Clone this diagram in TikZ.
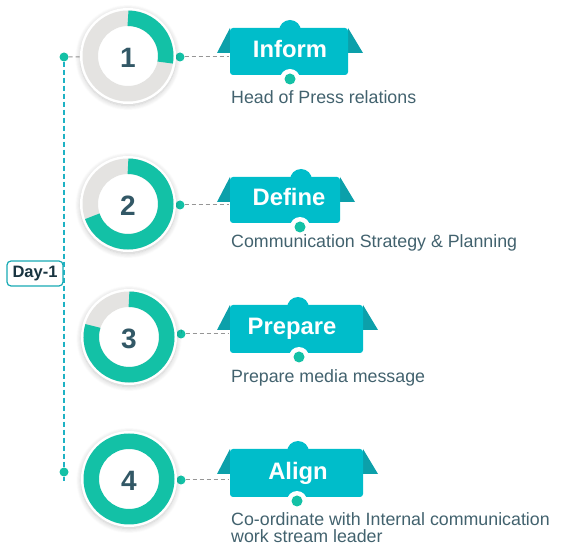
\documentclass[tikz,border=0pt]{standalone}
\usepackage{fontspec}
\setmainfont{Liberation Sans}
\usetikzlibrary{shadows.blur}
\pgfdeclarelayer{bg}
\pgfsetlayers{bg,main}
\definecolor{ringteal}{RGB}{19,193,166}
\definecolor{ringgray}{RGB}{228,227,225}
\definecolor{bannerc}{RGB}{0,189,202}
\definecolor{wingc}{RGB}{12,160,170}
\definecolor{numc}{RGB}{50,88,102}
\definecolor{descc}{RGB}{66,98,110}
\definecolor{vlinec}{RGB}{30,178,196}
\definecolor{dayc}{RGB}{24,170,180}
\definecolor{daytext}{RGB}{24,52,64}
\definecolor{conngray}{RGB}{150,150,150}
\newcommand\mybanner[7]{% L R T B bumpx dotx name
  \fill[wingc] (#1,#3) -- (#1-13,#3+25) -- (#1,#3+25) -- cycle;
  \fill[wingc] (#2,#3) -- (#2+15,#3+25) -- (#2,#3+25) -- cycle;
  \fill[bannerc] (#5,#3+3) circle[radius=11pt];
  \fill[bannerc, rounded corners=3pt] (#1,#3) rectangle (#2,#4);
  \fill[white] (#6,#4+4) circle[radius=10pt];
  \node[ndot] (#7) at (#6,#4+4) {};
}
\newcommand\myring[3]{% name, center, teal end angle
  \node[disk] (#1) at (#2) {};
  \fill[ringgray, even odd rule] (#1.center) circle[radius=45.5pt] circle[radius=30pt];
  \draw[ringteal, line width=15.5pt] (#1.center) ++(90:37.75pt) arc[start angle=90, end angle=#3, radius=37.75pt];
}
\newcommand\myfullring[2]{% name, center
  \node[disk] (#1) at (#2) {};
  \fill[ringteal, even odd rule] (#1.center) circle[radius=45.5pt] circle[radius=30pt];
}
\begin{document}
\begin{tikzpicture}[x=1pt,y=-1pt,
  disk/.style={circle, fill=white, minimum size=96pt, inner sep=0pt,
    blur shadow={shadow blur steps=10, shadow xshift=0pt, shadow yshift=-1.5pt, shadow blur radius=5pt, shadow opacity=22}},
  numtxt/.style={text=numc, font=\bfseries\fontsize{28}{28}\selectfont, inner sep=0pt},
  title/.style={text=white, font=\bfseries\fontsize{23.8}{24}\selectfont, inner sep=0pt},
  desc/.style={text=descc, font=\fontsize{17.8}{18}\selectfont, inner sep=0pt},
  ndot/.style={circle, fill=ringteal, minimum size=11pt, inner sep=0pt},
  rdot/.style={circle, fill=ringteal, minimum size=9pt, inner sep=0pt},
  ldot/.style={circle, fill=ringteal, minimum size=9pt, inner sep=0pt},
  conn/.style={draw=conngray, line width=1pt, dash pattern=on 4pt off 3pt},
  vline/.style={draw=vlinec, line width=1.3pt, dash pattern=on 5pt off 3pt},
  daybox/.style={draw=dayc, line width=1.2pt, rounded corners=4pt, fill=white,
    minimum width=56pt, minimum height=25pt, inner sep=0pt,
    text=daytext, font=\bfseries\fontsize{16.5}{16.5}\selectfont}
]
\useasboundingbox (0,0) rectangle (566,548);

% rings
\myring{c1}{128,56}{-10}
\myring{c2}{128,204}{-161}
\myring{c3}{129,337}{-197}
\myfullring{c4}{129,479}

\node[numtxt] (n1) at (128,58) {1};
\node[numtxt] (n2) at (128,206) {2};
\node[numtxt] (n3) at (129,339) {3};
\node[numtxt] (n4) at (129,481) {4};

% banners
\mybanner{230}{348}{28}{75}{290}{290}{p1}
\mybanner{230}{340}{177}{223}{301}{300}{p2}
\mybanner{230}{363}{305}{353}{298}{299}{p3}
\mybanner{230}{363}{449}{497}{298}{297}{p4}

\node[title, anchor=base] (t1) at (290,58) {Inform};
\node[title, anchor=base] (t2) at (289,206) {Define};
\node[title, anchor=base] (t3) at (292,335) {Prepare};
\node[title, anchor=base] (t4) at (298,480) {Align};

\node[desc, anchor=base west] (d1) at (231,104) {Head of Press relations};
\node[desc, anchor=base west] (d2) at (231,248) {Communication Strategy \& Planning};
\node[desc, anchor=base west] (d3) at (231,383) {Prepare media message};
\node[desc, anchor=base west] (d4) at (231,526) {Co-ordinate with Internal communication};
\node[desc, anchor=base west] (d4b) at (231,543) {work stream leader};

% connectors and dots behind the disks
\begin{pgfonlayer}{bg}
  \node[rdot] (r1) at (180,57) {};
  \node[rdot] (r2) at (180,205) {};
  \node[rdot] (r3) at (181,334) {};
  \node[rdot] (r4) at (181,480) {};
  \coordinate (e1) at (229,57);
  \coordinate (e2) at (229,205);
  \coordinate (e3) at (229,334);
  \coordinate (e4) at (229,480);
  \draw[conn] (r1) -- (e1);
  \draw[conn] (r2) -- (e2);
  \draw[conn] (r3) -- (e3);
  \draw[conn] (r4) -- (e4);
  \node[ldot] (l1) at (64,57) {};
  \node[ldot] (l4) at (64,472) {};
  \coordinate (vend) at (64,481);
  \draw[vline] (l1) -- (l4) -- (vend);
  \draw[conn] (l1) -- (c1);
\end{pgfonlayer}

\node[daybox] (day) at (35,273.5) {Day-1};
\end{tikzpicture}
\end{document}
